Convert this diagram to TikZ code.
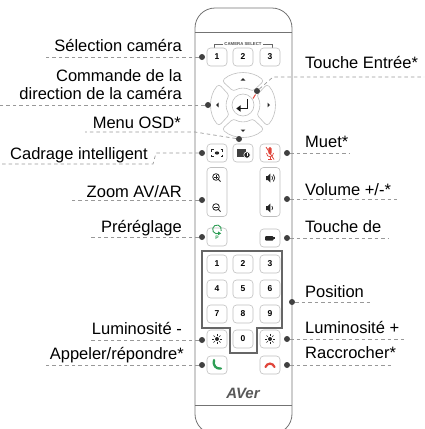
\documentclass[tikz,border=0pt]{standalone}
\usepackage{fontspec}
\setmainfont{Liberation Sans}
\definecolor{mutered}{HTML}{E0463C}
\definecolor{callgreen}{HTML}{2E9E55}

\begin{document}
\begin{tikzpicture}[x=1pt, y=-1pt,
    lbl/.style={inner sep=0pt, font=\fontsize{16.5}{18}\selectfont},
    lead/.style={draw=black!40, dash pattern=on 3.5pt off 3pt, line width=.7pt},
    pin/.style={circle, fill=black!75, inner sep=0pt, minimum size=6pt},
    body/.style={draw=black!55, line width=.8pt, rounded corners=20pt},
    seam/.style={draw=black!55, line width=.8pt},
    key/.style={draw=black!25, fill=white, rounded corners=3.5pt, line width=.6pt, minimum width=20pt, minimum height=18pt, inner sep=0pt, font=\bfseries\fontsize{8.5}{9}\selectfont},
    rocker/.style={key, minimum height=49pt},
    padseg/.style={draw=black!25, fill=white, line width=.6pt, rounded corners=3pt},
    glyph/.style={black!85, line width=.8pt}]

    \useasboundingbox (0,0) rectangle (424,429);

    % Remote body, cut at the bottom
    \begin{scope}
        \clip (0,0) rectangle (424,429);
        \draw[body] (195,8) rectangle (292,434);
    \end{scope}
    \draw[seam] (195,32) -- (292,32);
    \draw[seam] (195,405) -- (292,405);

    % Camera select keys
    \node[font=\bfseries\fontsize{4.3}{5}\selectfont, text=black!70, inner sep=1pt] (camsel) at (243,44.5) {CAMERA SELECT};
    \draw[black!60, line width=.5pt] (214,48) |- (camsel.west);
    \draw[black!60, line width=.5pt] (272,48) |- (camsel.east);
    \foreach \n/\x in {1/217, 2/243, 3/270}
        \node[key] (cam\n) at (\x,57) {\n};

    % Direction pad
    \begin{scope}[shift={(243,105)}]
        \foreach \d in {0,90,180,270}
            \draw[padseg] (\d-41:32) arc[start angle=\d-41, end angle=\d+41, radius=32]
                -- (\d+35:16.5) arc[start angle=\d+35, end angle=\d-35, radius=16.5] -- cycle;
        \foreach \d in {0,90,180,270}
            \fill[black!85, rotate=\d] (27,0) -- (24.5,-2.3) -- (24.5,2.3) -- cycle;
    \end{scope}
    \node[circle, draw=black!25, fill=white, line width=.6pt, minimum size=22pt, inner sep=0pt] (ok-key) at (243,105) {};
    \draw[black!90, line width=1.6pt] (247.5,99) -- (247.5,108.5) -- (240,108.5);
    \fill[black!90] (240.5,105.3) -- (240.5,111.7) -- (236.3,108.5) -- cycle;
    \draw[mutered, line width=1pt] (255.5,94.5) -- (253,98.5);

    % Framing, OSD and mute
    \node[key] (framing-key) at (217,153) {};
    \node[key] (osd-key) at (243,153) {};
    \node[key] (mute-key) at (270,153) {};
    \draw[glyph] (211.5,151.5) |- (213.5,149.5) (220.5,149.5) -| (222.5,151.5)
        (222.5,154.5) |- (220.5,156.5) (213.5,156.5) -| (211.5,154.5);
    \fill[black!85] (217,153) ellipse (2.2 and 1.6);
    \fill[black!75] (236.5,149) rectangle (246,157);
    \filldraw[fill=black!85, draw=white, line width=.6pt] (247,155) circle (3.2);
    \draw[white, line width=.5pt] (247,153.3) -- (247,155) -- (248.4,155);
    \fill[mutered, rounded corners=1.5pt] (268.3,147) rectangle (271.7,154.5);
    \draw[mutered, line width=.7pt] (266.5,153) .. controls (266.5,158) and (273.5,158) .. (273.5,153);
    \draw[mutered, line width=.7pt] (270,157) -- (270,159.5) (268,159.5) -- (272,159.5);
    \draw[mutered, line width=.8pt] (266,147) -- (274,159.5);

    % Zoom and volume rockers
    \node[rocker] (zoom-key) at (217,192) {};
    \node[rocker] (vol-key) at (270,192) {};
    \foreach \y in {177,207} {
        \draw[glyph] (216,\y) circle (3.3) (218.4,\y+2.4) -- (220.6,\y+4.6);
        \draw[black!85, line width=.6pt] (214.2,\y) -- (217.8,\y);
    }
    \draw[black!85, line width=.6pt] (216,175.2) -- (216,178.8);
    \fill[black!85] (266,176) -- (267.8,176) -- (270.3,173.5) -- (270.3,182.5) -- (267.8,180) -- (266,180) -- cycle;
    \draw[black!85, line width=.7pt] (271.8,176) .. controls (273,177.3) and (273,178.7) .. (271.8,180)
        (273.3,174.5) .. controls (275.3,176.5) and (275.3,179.5) .. (273.3,181.5);
    \fill[black!85] (266,206) -- (267.8,206) -- (270.3,203.5) -- (270.3,212.5) -- (267.8,210) -- (266,210) -- cycle;
    \draw[black!85, line width=.7pt] (271.8,206) .. controls (273,207.3) and (273,208.7) .. (271.8,210);

    % Preset and camera keys
    \node[key] (preset-key) at (217,237) {};
    \node[key] (camera-key) at (270,238) {};
    \draw[callgreen, line width=.9pt] (219.2,233.2) arc[start angle=60, end angle=380, radius=4.4];
    \fill[callgreen] (218,231.4) -- (221.2,233.4) -- (218.2,235.2) -- cycle;
    \node[font=\bfseries\fontsize{5}{5}\selectfont, text=callgreen, inner sep=0pt] (preset-p) at (217,237.3) {P};
    \fill[black!85, rounded corners=1pt] (265,236) rectangle (273.5,240.5);
    \fill[black!85] (273,237.3) rectangle (275,239.2);

    % Number pad
    \draw[black!60, line width=1.1pt] (202,251) -- (282,251) -- (282,328) -- (257,328)
        -- (257,353) -- (230,353) -- (230,328) -- (202,328) -- cycle;
    \foreach \n/\x/\y in {1/217/264, 2/243/264, 3/270/264, 4/217/289, 5/243/289, 6/270/289,
                          7/217/314, 8/243/314, 9/270/314, 0/243/339}
        \node[key] (num\n) at (\x,\y) {\n};

    % Brightness and call keys
    \node[key] (dimmer-key) at (217,339) {};
    \node[key] (brighter-key) at (270,339) {};
    \foreach \x in {217,270} {
        \fill[black!85] (\x,339) circle (2);
        \foreach \a in {0,45,...,315}
            \draw[black!85, line width=.6pt] (\x,339) ++(\a:3) -- ++(\a:2);
    }
    \node[key] (answer-key) at (217,365) {};
    \node[key] (hangup-key) at (270,365) {};
    \draw[callgreen, line width=2.3pt, line cap=round] (214,360) .. controls (212.5,365) and (216,369.5) .. (221,368.5);
    \draw[mutered, line width=2.2pt, line cap=round] (265.5,367) .. controls (267,362.5) and (273,362.5) .. (274.5,367);

    \node[font=\bfseries\itshape\fontsize{15}{15}\selectfont, text=black!65, inner sep=0pt] (logo) at (243,393) {AVer};

    % Left side labels
    \node[lbl, anchor=base east] (selcam) at (182,51) {Sélection caméra};
    \node[lbl, anchor=east, align=right] (steer) at (182,85) {Commande de la\\direction de la caméra};
    \node[lbl, anchor=base east] (osd) at (181,128) {Menu OSD*};
    \node[lbl, anchor=base east] (framing) at (148,159) {Cadrage intelligent};
    \node[lbl, anchor=base east] (zoom) at (182,197) {Zoom AV/AR};
    \node[lbl, anchor=base east] (preset) at (182,232) {Préréglage};
    \node[lbl, anchor=base east] (dimmer) at (182,334) {Luminosité -};
    \node[lbl, anchor=base east] (answer) at (184,359) {Appeler/répondre*};

    % Right side labels
    \node[lbl, anchor=base west] (enter) at (305,68) {Touche Entrée*};
    \node[lbl, anchor=base west] (mute) at (305,147) {Muet*};
    \node[lbl, anchor=base west] (vol) at (305,195) {Volume +/-*};
    \node[lbl, anchor=base west] (camera) at (305,232) {Touche de};
    \node[lbl, anchor=base west] (position) at (305,297) {Position};
    \node[lbl, anchor=base west] (brighter) at (305,333) {Luminosité +};
    \node[lbl, anchor=base west] (hangup) at (305,358) {Raccrocher*};

    % Pins
    \node[pin] (selcam-dot) at (202,57) {};
    \node[pin] (steer-dot) at (208,105) {};
    \node[pin] (osd-dot) at (239,139) {};
    \node[pin] (framing-dot) at (202,153) {};
    \node[pin] (zoom-dot) at (202,200) {};
    \node[pin] (preset-dot) at (202,237) {};
    \node[pin] (dimmer-dot) at (202,340) {};
    \node[pin] (answer-dot) at (202,365) {};
    \node[pin] (enter-dot) at (257,91) {};
    \node[pin] (mute-dot) at (287,153) {};
    \node[pin] (vol-dot) at (287,199) {};
    \node[pin] (camera-dot) at (287,238) {};
    \node[pin] (position-dot) at (292,302) {};
    \node[pin] (brighter-dot) at (287,339) {};
    \node[pin] (hangup-dot) at (287,365) {};

    % Leader ends
    \coordinate (selcam-end) at (43,57);
    \coordinate (steer-end) at (0,105);
    \coordinate (osd-bend) at (195,132);
    \coordinate (osd-end) at (85,132);
    \coordinate (framing-bend) at (156,153);
    \coordinate (framing-foot) at (153,164);
    \coordinate (framing-end) at (2,164);
    \coordinate (zoom-end) at (70,200);
    \coordinate (preset-end) at (90,237);
    \coordinate (dimmer-end) at (90,340);
    \coordinate (answer-end) at (45,365);
    \coordinate (enter-bend) at (273,77);
    \coordinate (enter-end) at (424,77);
    \coordinate (mute-end) at (350,153);
    \coordinate (vol-end) at (397,199);
    \coordinate (camera-end) at (388,238);
    \coordinate (position-end) at (373,302);
    \coordinate (brighter-end) at (407,339);
    \coordinate (hangup-end) at (393,365);

    % Leaders
    \draw[lead] (selcam-dot) -- (selcam-end);
    \draw[lead] (steer-dot) -- (steer-end);
    \draw[lead] (osd-dot) -- (osd-bend) -- (osd-end);
    \draw[lead] (framing-dot) -- (framing-bend) -- (framing-foot) -- (framing-end);
    \draw[lead] (zoom-dot) -- (zoom-end);
    \draw[lead] (preset-dot) -- (preset-end);
    \draw[lead] (dimmer-dot) -- (dimmer-end);
    \draw[lead] (answer-dot) -- (answer-end);
    \draw[lead] (enter-dot) -- (enter-bend) -- (enter-end);
    \draw[lead] (mute-dot) -- (mute-end);
    \draw[lead] (vol-dot) -- (vol-end);
    \draw[lead] (camera-dot) -- (camera-end);
    \draw[lead] (position-dot) -- (position-end);
    \draw[lead] (brighter-dot) -- (brighter-end);
    \draw[lead] (hangup-dot) -- (hangup-end);

\end{tikzpicture}
\end{document}
